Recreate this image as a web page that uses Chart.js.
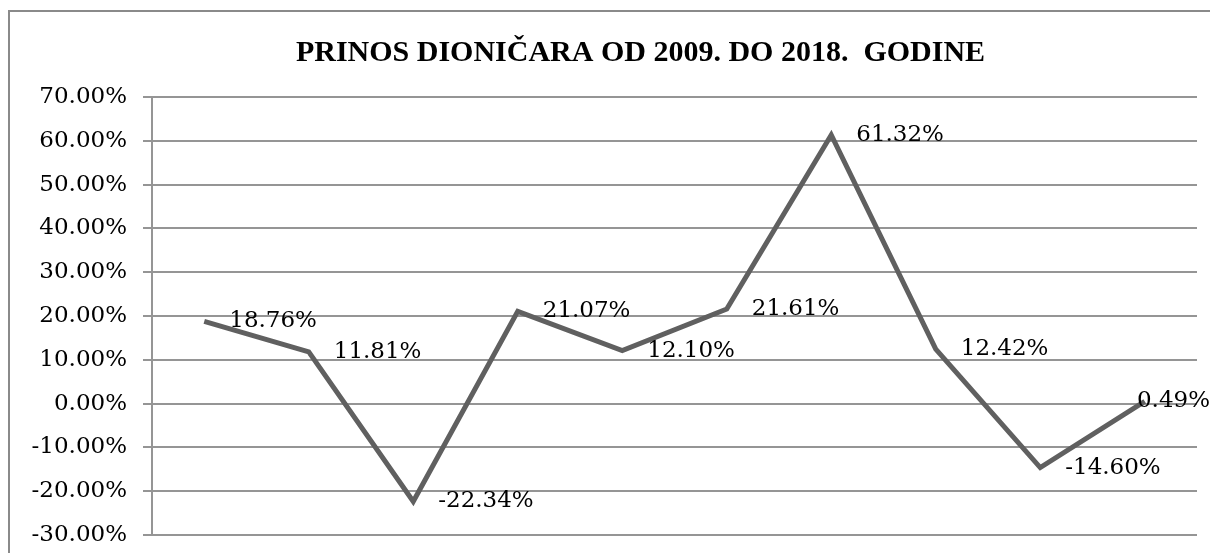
<!DOCTYPE html>
<html>
<head>
<meta charset="utf-8">
<script src="https://cdn.jsdelivr.net/npm/chart.js@4/dist/chart.umd.min.js"></script>
<style>
  html, body { margin: 0; padding: 0; background: #fff; overflow: hidden; }
  #wrap { position: relative; width: 1210px; height: 553px; }
  #frame { position: absolute; left: 8px; top: 10px; width: 1220px; height: 560px;
           border: 2px solid #8a8a8a; box-sizing: border-box; }
  canvas { position: absolute; left: 0; top: 0; }
</style>
</head>
<body>
<div id="wrap">
  <div id="frame"></div>
  <canvas id="chart" width="1210" height="553"></canvas>
</div>
<script>
// godine
var years = ["2009", "2010", "2011", "2012", "2013", "2014", "2015", "2016", "2017", "2018"];
// prinos u %
var returns = [18.76, 11.81, -22.34, 21.07, 12.10, 21.61, 61.32, 12.42, -14.60, 0.49];
var yMin = -30, yMax = 70, yStep = 10;
var title = "PRINOS DIONIČARA OD 2009. DO 2018.  GODINE";

// labels right of every point (pushed back in at the right edge, like Excel)
var pointLabels = {
  id: "pointLabels",
  afterDatasetsDraw: function (chart) {
    var ctx = chart.ctx;
    var meta = chart.getDatasetMeta(0);
    ctx.save();
    ctx.font = "23px 'DejaVu Serif'";
    ctx.fillStyle = "#000";
    ctx.textAlign = "left";
    ctx.textBaseline = "middle";
    meta.data.forEach(function (pt, i) {
      var txt = returns[i].toFixed(2) + "%";
      var x = Math.min(pt.x + 25, chart.width - ctx.measureText(txt).width);
      ctx.fillText(txt, x, pt.y);
    });
    ctx.restore();
  }
};

// title centred a bit left of the canvas middle, as in the excel frame
var titleShift = {
  id: "titleShift",
  afterLayout: function (chart) {
    var t = chart.titleBlock;
    if (t) {
      t.left = 84;
      t.right = 1197;
      t.width = t.right - t.left;
    }
  }
};

var element = document.getElementById("chart");
var chart = new Chart(element, {
  type: "line",
  data: {
    labels: years,
    datasets: [{
      data: returns,
      borderColor: "#606060",
      borderWidth: 5,
      pointRadius: 0,
      tension: 0,
      fill: false
    }]
  },
  options: {
    responsive: false,
    animation: false,
    layout: { padding: { left: 0, right: 13, top: 0, bottom: 18 } },
    plugins: {
      legend: { display: false },
      tooltip: { enabled: false },
      title: {
        display: true,
        text: title,
        color: "#000",
        font: { family: "'Liberation Serif'", size: 30, weight: "bold" },
        padding: { top: 35, bottom: 26 }
      }
    },
    scales: {
      x: { display: false, offset: true },
      y: {
        min: yMin,
        max: yMax,
        afterFit: function (scale) {
          scale.width = 152;
          scale.paddingTop = 0;
          scale.paddingBottom = 0;
        },
        ticks: {
          stepSize: yStep,
          color: "#000",
          padding: 16,
          font: { family: "'DejaVu Serif'", size: 23 },
          callback: function (v) { return v.toFixed(2) + "%"; }
        },
        grid: { color: "#959595", lineWidth: 2, tickLength: 9 },
        border: { color: "#959595", width: 2 }
      }
    }
  },
  plugins: [pointLabels, titleShift]
});
</script>
</body>
</html>
